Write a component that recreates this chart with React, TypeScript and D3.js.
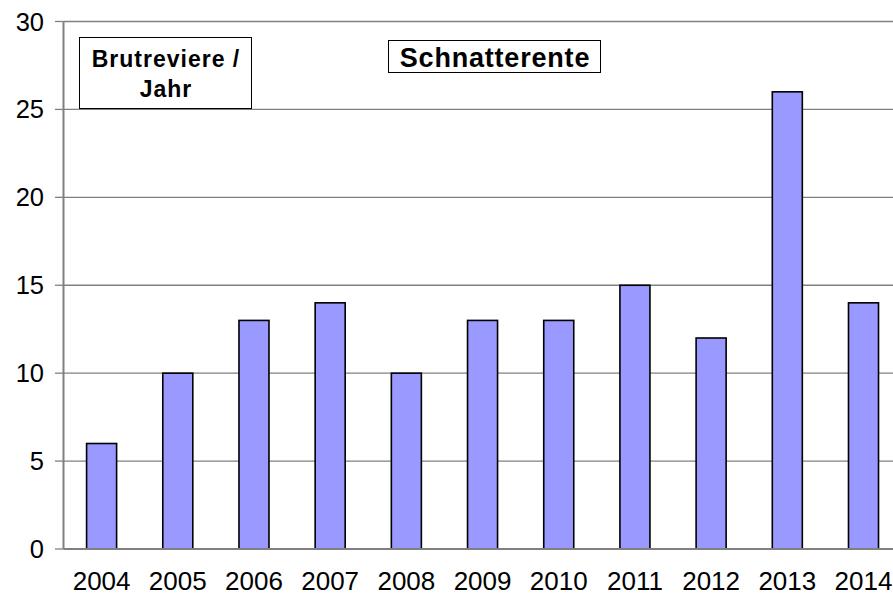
import React from "react";
import * as d3 from "d3";

const years = ["2004", "2005", "2006", "2007", "2008", "2009", "2010", "2011", "2012", "2013", "2014"];
const values = [6, 10, 13, 14, 10, 13, 13, 15, 12, 26, 14];
const yTicks = [0, 5, 10, 15, 20, 25, 30];
const chartTitle = "Schnatterente";
const unitLines = ["Brutreviere /", "Jahr"];

const W = 893;
const H = 596;
const FONT = "'Liberation Sans', Arial, sans-serif";

export default function App() {
  const left = 63.5;
  const right = 901.6;
  const top = 21.5;
  const bottom = 549;

  const x = d3.scaleBand<string>().domain(years).range([left, right]).paddingInner(0.606).paddingOuter(0.303);
  const y = d3.scaleLinear().domain([0, 30]).range([bottom, top]);

  return (
    <svg width={W} height={H} style={{ position: "absolute", left: 0, top: 0, background: "#fff" }}>
      <rect x={0} y={0} width={W} height={H} fill="#fff" />
      {yTicks.map((t) => (
        <g key={t}>
          {t > 0 && <line x1={left} x2={W} y1={y(t)} y2={y(t)} stroke="#808080" strokeWidth={1.3} />}
          <line x1={55} x2={left} y1={y(t)} y2={y(t)} stroke="#808080" strokeWidth={1.3} />
          <text x={44} y={y(t) + 9} textAnchor="end" fontFamily={FONT} fontSize={25.5} fill="#000">
            {t}
          </text>
        </g>
      ))}
      {years.map((yr, i) => (
        <rect
          key={yr}
          x={x(yr)!}
          y={y(values[i])}
          width={x.bandwidth()}
          height={y(0) - y(values[i])}
          fill="#9999FF"
          stroke="#000"
          strokeWidth={1.6}
        />
      ))}
      <line x1={left} x2={left} y1={top} y2={bottom} stroke="#808080" strokeWidth={2} />
      <line x1={left} x2={W} y1={bottom} y2={bottom} stroke="#808080" strokeWidth={2} />
      {years.map((yr) => (
        <text
          key={"l" + yr}
          x={x(yr)! + x.bandwidth() / 2}
          y={590}
          textAnchor="middle"
          fontFamily={FONT}
          fontSize={26}
          fill="#000"
        >
          {yr}
        </text>
      ))}
      <rect x={79.5} y={37.5} width={172} height={71} fill="#fff" stroke="#000" strokeWidth={1} />
      {unitLines.map((ln, i) => (
        <text
          key={ln}
          x={166}
          y={67 + i * 30}
          textAnchor="middle"
          fontFamily={FONT}
          fontWeight="bold"
          fontSize={23}
          letterSpacing={1}
          fill="#000"
        >
          {ln}
        </text>
      ))}
      <rect x={388.5} y={40.5} width={212} height={32} fill="#fff" stroke="#000" strokeWidth={1} />
      <text
        x={495}
        y={66.5}
        textAnchor="middle"
        fontFamily={FONT}
        fontWeight="bold"
        fontSize={27}
        letterSpacing={0.8}
        fill="#000"
      >
        {chartTitle}
      </text>
    </svg>
  );
}
